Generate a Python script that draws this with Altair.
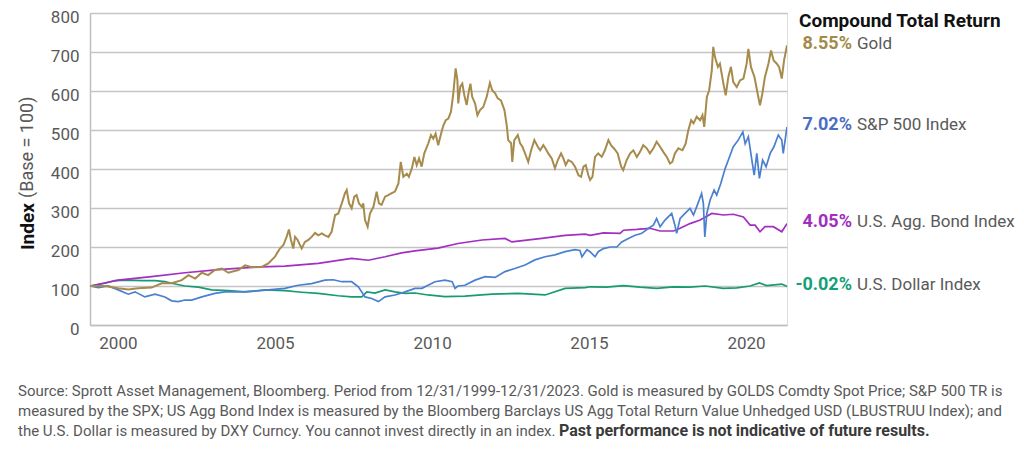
import altair as alt
import pandas as pd

# ---------------- data (index, base = 100) ----------------
gold_t = [2000.00, 2000.52, 2000.97, 2001.32, 2001.66, 2002.12, 2002.47, 2002.81, 2003.16, 2003.39,
          2003.62, 2003.85, 2004.07, 2004.30, 2004.54, 2004.76, 2005.11, 2005.34, 2005.57, 2005.91,
          2006.14, 2006.37, 2006.43, 2006.54, 2006.66, 2006.77, 2006.85, 2006.92, 2007.00, 2007.06,
          2007.15, 2007.23, 2007.29, 2007.40, 2007.52, 2007.63, 2007.75, 2007.86, 2007.98, 2008.09,
          2008.21, 2008.32, 2008.44, 2008.55, 2008.67, 2008.78, 2008.84, 2008.92, 2009.01, 2009.10,
          2009.18, 2009.26, 2009.36, 2009.41, 2009.47, 2009.56, 2009.64, 2009.76, 2009.87, 2009.95,
          2010.04, 2010.16, 2010.27, 2010.39, 2010.50, 2010.62, 2010.70, 2010.79, 2010.91, 2010.98,
          2011.08, 2011.17, 2011.25, 2011.33, 2011.42, 2011.51, 2011.65, 2011.74, 2011.82, 2011.90,
          2011.99, 2012.09, 2012.17, 2012.25, 2012.34, 2012.43, 2012.51, 2012.59, 2012.65, 2012.68,
          2012.75, 2012.82, 2012.89, 2012.97, 2013.05, 2013.10, 2013.16, 2013.26, 2013.34, 2013.43,
          2013.54, 2013.66, 2013.77, 2013.85, 2013.95, 2014.04, 2014.15, 2014.27, 2014.35, 2014.40,
          2014.50, 2014.54, 2014.61, 2014.73, 2014.81, 2014.89, 2014.98, 2015.09, 2015.19, 2015.30,
          2015.42, 2015.50, 2015.61, 2015.69, 2015.78, 2015.90, 2016.01, 2016.11, 2016.22, 2016.30,
          2016.38, 2016.47, 2016.59, 2016.70, 2016.82, 2016.91, 2016.99, 2017.07, 2017.16, 2017.22,
          2017.30, 2017.39, 2017.50, 2017.62, 2017.73, 2017.85, 2017.94, 2018.05, 2018.17, 2018.29,
          2018.36, 2018.48, 2018.60, 2018.71, 2018.83, 2018.94, 2019.05, 2019.17, 2019.28, 2019.40,
          2019.51, 2019.63, 2019.74, 2019.86, 2019.97, 2020.05, 2020.14, 2020.26, 2020.40, 2020.51,
          2020.60, 2020.70, 2020.78, 2020.89, 2021.01, 2021.09, 2021.15, 2021.24, 2021.32, 2021.41,
          2021.46, 2021.52, 2021.62, 2021.69, 2021.81, 2021.89, 2021.98, 2022.07, 2022.15, 2022.27,
          2022.38, 2022.50, 2022.61, 2022.67, 2022.76, 2022.88, 2022.99, 2023.07, 2023.15, 2023.24,
          2023.36, 2023.45, 2023.54, 2023.65, 2023.73, 2023.82, 2023.90, 2024.00]
gold_v = [100, 100, 94, 91, 94, 96, 107, 107, 115, 128,
          119, 134, 128, 141, 145, 134, 141, 153, 148, 149,
          158, 175, 183, 196, 205, 226, 245, 218, 196, 226,
          218, 205, 196, 213, 218, 226, 236, 230, 235, 230,
          226, 239, 282, 286, 312, 338, 346, 312, 299, 329,
          333, 312, 303, 312, 269, 252, 286, 303, 342, 312,
          308, 329, 333, 338, 342, 363, 418, 380, 388, 380,
          401, 431, 410, 427, 406, 440, 466, 487, 478, 491,
          461, 491, 512, 525, 529, 547, 594, 658, 628, 568,
          611, 619, 589, 564, 602, 619, 585, 568, 538, 551,
          559, 585, 621, 602, 594, 581, 576, 551, 512, 474,
          466, 418, 474, 487, 466, 457, 440, 418, 448, 474,
          457, 448, 461, 452, 440, 427, 402, 423, 440, 427,
          410, 423, 418, 406, 384, 380, 406, 410, 384, 372,
          380, 431, 440, 431, 448, 474, 461, 452, 440, 406,
          397, 423, 440, 448, 431, 444, 461, 453, 440, 453,
          470, 457, 444, 431, 414, 418, 440, 453, 448, 465,
          499, 525, 517, 534, 525, 538, 508, 585, 602, 653,
          713, 687, 662, 670, 619, 589, 636, 662, 623, 610,
          627, 632, 670, 708, 661, 636, 593, 563, 593, 636,
          670, 704, 678, 670, 661, 632, 679, 717]

spx_t = [2000.00, 2000.29, 2000.63, 2000.97, 2001.32, 2001.55, 2001.89, 2002.24, 2002.58, 2002.81,
         2003.04, 2003.27, 2003.50, 2003.85, 2004.30, 2004.65, 2005.22, 2005.68, 2006.14, 2006.71,
         2007.17, 2007.63, 2008.09, 2008.38, 2008.67, 2009.01, 2009.24, 2009.47, 2009.70, 2009.93,
         2010.16, 2010.50, 2010.85, 2011.19, 2011.43, 2011.64, 2011.88, 2012.22, 2012.47, 2012.57,
         2012.67, 2012.91, 2013.26, 2013.60, 2013.95, 2014.29, 2014.63, 2014.98, 2015.32, 2015.67,
         2016.01, 2016.36, 2016.70, 2016.87, 2016.94, 2017.11, 2017.22, 2017.39, 2017.50, 2017.68,
         2017.91, 2018.14, 2018.31, 2018.54, 2018.77, 2019.00, 2019.23, 2019.40, 2019.51, 2019.63,
         2019.80, 2020.03, 2020.14, 2020.20, 2020.32, 2020.49, 2020.66, 2020.78, 2020.89, 2021.06,
         2021.12, 2021.17, 2021.24, 2021.35, 2021.49, 2021.58, 2021.72, 2021.87, 2021.98, 2022.15,
         2022.32, 2022.48, 2022.56, 2022.67, 2022.79, 2022.87, 2022.96, 2023.05, 2023.16, 2023.28,
         2023.42, 2023.55, 2023.70, 2023.82, 2023.87, 2024.00]
spx_v = [100, 96, 100, 90, 79, 85, 72, 79, 72, 62,
         60, 64, 64, 72, 81, 85, 85, 87, 90, 94,
         102, 106, 115, 116, 111, 111, 98, 72, 68, 60,
         72, 77, 85, 94, 94, 102, 111, 115, 111, 94,
         100, 102, 115, 124, 122, 137, 145, 154, 167, 175,
         180, 188, 193, 191, 175, 193, 188, 175, 188, 196,
         200, 200, 213, 222, 230, 235, 248, 256, 273, 252,
         269, 286, 256, 235, 273, 286, 299, 282, 303, 337,
         312, 226, 286, 320, 346, 333, 363, 401, 423, 457,
         474, 495, 465, 483, 423, 384, 440, 376, 423, 406,
         440, 457, 487, 474, 440, 508]

bond_t = [2000.00, 2000.97, 2002.12, 2003.27, 2004.42, 2005.57, 2006.71, 2007.86, 2009.01, 2009.58,
          2010.16, 2010.73, 2011.19, 2011.98, 2012.67, 2013.50, 2014.29, 2014.53, 2014.74, 2015.56,
          2016.36, 2017.05, 2017.22, 2017.68, 2018.25, 2018.37, 2018.83, 2019.28, 2019.63, 2020.09,
          2020.32, 2020.66, 2021.01, 2021.41, 2021.81, 2022.15, 2022.50, 2022.73, 2022.90, 2023.07,
          2023.24, 2023.53, 2023.82, 2024.00]
bond_v = [100, 115, 124, 134, 142, 148, 151, 158, 171, 166,
          175, 185, 190, 197, 209, 218, 222, 213, 215, 222,
          230, 233, 230, 236, 235, 243, 245, 248, 241, 241,
          248, 260, 269, 286, 282, 284, 277, 256, 256, 239,
          252, 252, 239, 260]

usd_t = [2000.00, 2000.52, 2000.86, 2001.32, 2001.78, 2002.24, 2002.58, 2002.81, 2003.27, 2003.73,
         2004.19, 2004.76, 2005.34, 2006.03, 2006.71, 2007.29, 2007.86, 2008.55, 2009.01, 2009.36,
         2009.53, 2009.81, 2010.16, 2010.50, 2010.85, 2011.19, 2011.64, 2012.22, 2012.91, 2013.84,
         2014.74, 2015.67, 2016.36, 2017.05, 2017.22, 2017.79, 2018.37, 2018.94, 2019.51, 2020.09,
         2020.66, 2021.18, 2021.81, 2022.27, 2022.73, 2023.05, 2023.30, 2023.82, 2024.00]
usd_v = [100, 107, 114, 115, 114, 114, 111, 107, 100, 97,
         90, 88, 85, 90, 88, 84, 81, 75, 72, 72,
         85, 82, 90, 85, 81, 82, 77, 73, 74, 79,
         81, 77, 94, 96, 98, 97, 101, 97, 94, 98,
         97, 100, 94, 95, 100, 108, 101, 105, 99]

series_names = ["U.S. Dollar Index", "U.S. Agg. Bond Index", "S&P 500 Index", "Gold"]
series_t = [usd_t, bond_t, spx_t, gold_t]
series_v = [usd_v, bond_v, spx_v, gold_v]
series_returns = ["-0.02%", "4.05%", "7.02%", "8.55%"]
line_colors = ["#179B73", "#A22FC0", "#4A80D0", "#A68B4C"]
text_colors = ["#14A079", "#A12EBF", "#4A6EC2", "#A38A4B"]

tick_labels = ["2000", "2005", "2010", "2015", "2020"]
tick_pos = [2000.96, 2006.37, 2011.78, 2017.18, 2022.59]
y_ticks = [0, 100, 200, 300, 400, 500, 600, 700, 800]

footer_lines = [
    "Source: Sprott Asset Management, Bloomberg. Period from 12/31/1999-12/31/2023. Gold is measured by GOLDS Comdty Spot Price; S&P 500 TR is",
    "measured by the SPX; US Agg Bond Index is measured by the Bloomberg Barclays US Agg Total Return Value Unhedged USD (LBUSTRUU Index); and",
    "the U.S. Dollar is measured by DXY Curncy. You cannot invest directly in an index.",
]
footer_bold = "Past performance is not indicative of future results."

# ---------------- build ----------------
FONT = "Roboto"
GRAY = "#595959"

rows = []
for name, ts, vs in zip(series_names, series_t, series_v):
    for t, v in zip(ts, vs):
        rows.append({"series": name, "t": t, "v": v})
df = pd.DataFrame(rows)

label_expr = ""
for i, lab in enumerate(tick_labels[:-1]):
    mid = (tick_pos[i] + tick_pos[i + 1]) / 2
    label_expr += f"datum.value < {mid} ? '{lab}' : "
label_expr += f"'{tick_labels[-1]}'"

x_enc = alt.X("t:Q", scale=alt.Scale(domain=[2000, 2024], nice=False, zero=False),
              axis=alt.Axis(values=tick_pos, labelExpr=label_expr, grid=False, ticks=False,
                            title=None, labelPadding=10, labelFontSize=17, labelColor=GRAY,
                            labelFont=FONT, domainColor="#BFBFBF", domainWidth=1.5))
y_enc = alt.Y("v:Q", scale=alt.Scale(domain=[0, 800], nice=False),
              axis=alt.Axis(values=y_ticks, grid=True, gridColor="#C4C4C4", gridWidth=1.5,
                            ticks=False, title=None, labelPadding=11, labelFontSize=17,
                            labelOffset=4, labelColor=GRAY, labelFont=FONT,
                            domainColor="#BFBFBF", domainWidth=1.5))

layers = []
for i, name in enumerate(series_names):
    sw = 2.0 if name == "Gold" else 1.7
    layers.append(
        alt.Chart(df).transform_filter(alt.datum.series == name)
        .mark_line(color=line_colors[i], strokeWidth=sw, clip=True)
        .encode(x=x_enc, y=y_enc)
    )

dummy = pd.DataFrame({"a": [0]})


def txt(s, x, y, size, color, weight="normal", align="left", angle=0, baseline="middle"):
    kw = dict(text=s, fontSize=size, color=color, fontWeight=weight, align=align,
              baseline=baseline, font=FONT)
    if angle:
        kw["angle"] = angle
    return alt.Chart(dummy).mark_text(**kw).encode(x=alt.value(x), y=alt.value(y))


# y axis title
layers.append(txt("Index", -62, 237, 19, "#111111", weight="bold", angle=270))
layers.append(txt("(Base = 100)", -62, 185, 18, GRAY, angle=270))

# right-hand labels
layers.append(txt("Compound Total Return", 709, 8, 19, "#111111", weight="bold"))
label_y = [272, 209, 112, 31]
for i in range(4):
    layers.append(txt(series_returns[i], 762, label_y[i], 18, text_colors[i], weight="bold", align="right"))
    layers.append(txt(series_names[i], 767, label_y[i], 17, GRAY))

# footer
foot_y = [378, 398, 418]
for i, line in enumerate(footer_lines):
    layers.append(txt(line, -72, foot_y[i], 15, GRAY))
layers.append(txt(footer_bold, 469, foot_y[2], 16, "#3A3A3A", weight="bold"))

chart = alt.layer(*layers).properties(
    width=697, height=312,
    autosize=alt.AutoSizeParams(type="none"),
    padding={"left": 82, "top": 5, "right": 229, "bottom": 134},
).configure_view(stroke=None).configure(background="white")

chart.save("out.html", embed_options={"renderer": "svg", "actions": False})
